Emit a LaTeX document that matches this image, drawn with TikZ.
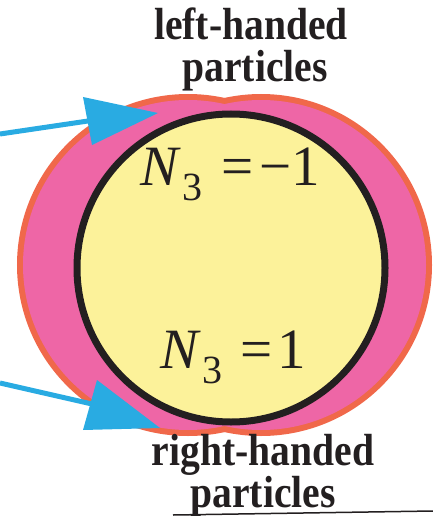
\documentclass[tikz,border=0pt]{standalone}
\usepackage{fontspec}
\setmainfont{Liberation Serif}
\newfontfamily\lbl[FakeStretch=0.88]{Liberation Serif}
\definecolor{pinkfill}{HTML}{EE66A6}
\definecolor{orangeline}{HTML}{F0684A}
\definecolor{yellowfill}{HTML}{FCF29A}
\definecolor{darkline}{HTML}{231F20}
\definecolor{arrowblue}{HTML}{29ABE2}
\tikzset{
  lbltext/.style={anchor=base, inner sep=0pt, font=\lbl\bfseries\fontsize{45}{45}\selectfont, text=darkline},
  eqtext/.style={anchor=base west, inner sep=0pt, font=\fontsize{57}{57}\selectfont, text=darkline},
  shaft/.style={draw=arrowblue, line width=5pt},
  headtri/.style={fill=arrowblue},
}
\newcommand{\Nthree}{{\itshape N}\kern4pt\raisebox{-15pt}{\fontsize{40}{40}\selectfont 3}}
\begin{document}
\begin{tikzpicture}[x=1pt,y=-1pt]
\useasboundingbox (0,0) rectangle (433,516);
% pink region: union of two circles with orange outline
\draw[orangeline, line width=12pt] (188,265) circle (165);
\draw[orangeline, line width=12pt] (261,265) circle (165);
\fill[pinkfill] (188,265) circle (165);
\fill[pinkfill] (261,265) circle (165);
% yellow disc with black ring
\node (disc) [circle, minimum size=308pt, fill=yellowfill, draw=darkline, line width=7pt, inner sep=0pt] at (231,268) {};
% labels
\node (lh1) [lbltext] at (251,40) {left-handed};
\node (lh2) [lbltext] at (255,82) {particles};
\node (rh1) [lbltext] at (263,465) {right-handed};
\node (rh2) [lbltext] at (263,507) {particles};
% equations
\node (eqtop) [eqtext] at (140,185) {\Nthree\hspace{19pt}=\hspace{6pt}−1};
\node (eqbot) [eqtext] at (160,368) {\Nthree\hspace{18pt}=\hspace{5pt}1};
% arrows
\coordinate (ta) at (0,134);
\coordinate (tb) at (88,121);
\coordinate (ttip) at (158,113);
\coordinate (tl) at (83,97);
\coordinate (tr) at (92,145);
\draw[shaft] (ta) -- (tb);
\fill[headtri] (tl) -- (ttip) -- (tr) -- cycle;
\coordinate (ba) at (0,383);
\coordinate (bb) at (92,404);
\coordinate (btip) at (160,428);
\coordinate (bl) at (97,380);
\coordinate (br) at (83,430);
\draw[shaft] (ba) -- (bb);
\fill[headtri] (bl) -- (btip) -- (br) -- cycle;
% underline stroke at bottom
\coordinate (ul1) at (173,515);
\coordinate (ul2) at (433,511);
\draw[darkline, line width=1.5pt] (ul1) -- (ul2);
\end{tikzpicture}
\end{document}
